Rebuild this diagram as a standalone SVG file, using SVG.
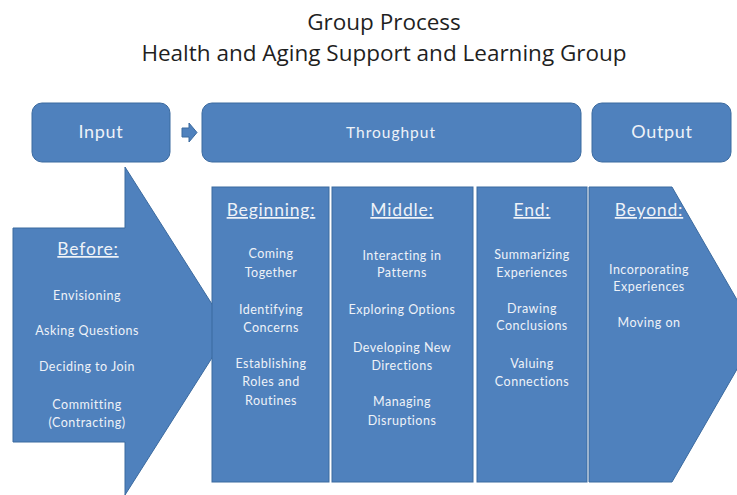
<svg xmlns="http://www.w3.org/2000/svg" width="737" height="495" viewBox="0 0 737 495">
<style>
.shape{fill:#4f81bd;stroke:#3b6a9f;stroke-width:1}
.title{font-family:"Open Sans",Lato,sans-serif;font-size:22.5px;fill:#1f1f1f;text-anchor:middle}
.hdr{font-family:Lato,"Open Sans",sans-serif;font-size:18px;letter-spacing:0.7px;fill:#eef2f8;text-anchor:middle}
.head{font-family:Lato,"Open Sans",sans-serif;font-size:17.5px;letter-spacing:0.8px;fill:#eef2f8;text-anchor:middle;text-decoration:underline}
.item{font-family:Lato,"Open Sans",sans-serif;font-size:12.5px;letter-spacing:0.5px;fill:#eef2f8;text-anchor:middle}
</style>
<rect width="737" height="495" fill="#ffffff"/>
<g id="title">
<text class="title" x="384" y="30">Group Process</text>
<text class="title" x="384" y="61">Health and Aging Support and Learning Group</text>
</g>
<g id="input">
<rect class="shape" x="32" y="103" width="138" height="59" rx="10"/>
<text class="hdr" x="101" y="138">Input</text>
</g>
<g id="throughput">
<rect class="shape" x="202" y="103" width="379" height="59" rx="10"/>
<text class="hdr" x="391" y="138" style="font-size:15.5px;letter-spacing:1px">Throughput</text>
</g>
<g id="output">
<rect class="shape" x="592" y="103" width="139" height="59" rx="10"/>
<text class="hdr" x="662" y="138">Output</text>
</g>
<g id="connectors">
<polygon class="shape" points="182,128 189,128 189,123 197,132.5 189,142 189,137 182,137"/>
</g>
<g id="before">
<polygon class="shape" points="13,228 125,228 125,167 229,331 125,495 125,442 13,442"/>
<text class="head" x="88" y="255">Before:</text>
<text class="item" x="87" y="300">Envisioning</text>
<text class="item" x="87" y="335">Asking Questions</text>
<text class="item" x="87" y="371">Deciding  to Join</text>
<text class="item" x="87" y="409">Committing</text>
<text class="item" x="87" y="427">(Contracting)</text>
</g>
<g id="beginning">
<rect class="shape" x="212" y="187" width="117" height="295"/>
<text class="head" x="271" y="216">Beginning:</text>
<text class="item" x="271" y="258">Coming</text>
<text class="item" x="271" y="277">Together</text>
<text class="item" x="271" y="314">Identifying</text>
<text class="item" x="271" y="332">Concerns</text>
<text class="item" x="271" y="368">Establishing</text>
<text class="item" x="271" y="386">Roles and</text>
<text class="item" x="271" y="405">Routines</text>
</g>
<g id="middle">
<rect class="shape" x="332" y="187" width="141" height="295"/>
<text class="head" x="402" y="216">Middle:</text>
<text class="item" x="402" y="260">Interacting  in</text>
<text class="item" x="402" y="277">Patterns</text>
<text class="item" x="402" y="314">Exploring  Options</text>
<text class="item" x="402" y="352">Developing  New</text>
<text class="item" x="402" y="370">Directions</text>
<text class="item" x="402" y="406">Managing</text>
<text class="item" x="402" y="425">Disruptions</text>
</g>
<g id="end">
<rect class="shape" x="477" y="187" width="110" height="295"/>
<text class="head" x="532" y="216">End:</text>
<text class="item" x="532" y="259">Summarizing</text>
<text class="item" x="532" y="277">Experiences</text>
<text class="item" x="532" y="313">Drawing</text>
<text class="item" x="532" y="330">Conclusions</text>
<text class="item" x="532" y="368">Valuing</text>
<text class="item" x="532" y="386">Connections</text>
</g>
<g id="beyond">
<polygon class="shape" points="589,187 672,187 757,334.5 672,482 589,482"/>
<text class="head" x="649" y="216">Beyond:</text>
<text class="item" x="649" y="274">Incorporating</text>
<text class="item" x="649" y="291">Experiences</text>
<text class="item" x="649" y="327">Moving on</text>
</g>
</svg>
